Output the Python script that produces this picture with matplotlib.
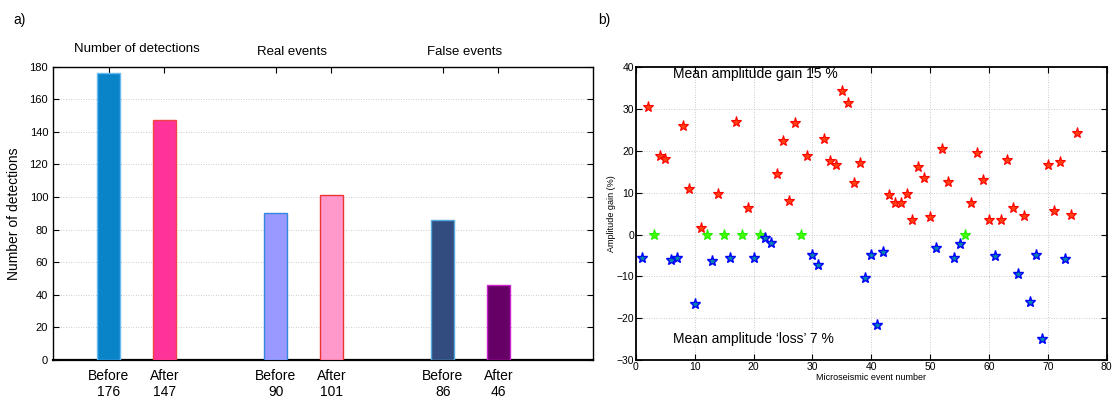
import matplotlib
matplotlib.use("Agg")
import matplotlib.pyplot as plt
import numpy as np

plt.rcParams['font.family'] = ['Liberation Sans', 'DejaVu Sans']

# detection counts, before/after for each category
groups = ["Number of detections", "Real events", "False events"]
stages = ["Before", "After"]
counts = [176, 147, 90, 101, 86, 46]
bar_face = ["#0A84C8", "#FF3399", "#9999FF", "#FF99CC", "#334C7F", "#660066"]
bar_edge = ["#66BBEE", "#EE4444", "#3388DD", "#EE3333", "#55AADD", "#CC22CC"]

# amplitude gain per microseismic event
gain_events = [2, 4, 5, 8, 9, 11, 14, 17, 19, 24, 25, 26, 27, 29, 32, 33, 34, 35, 36,
               37, 38, 43, 44, 45, 46, 47, 48, 49, 50, 52, 53, 57, 58, 59, 60, 62, 63,
               64, 66, 70, 71, 72, 74, 75]
gain_values = [30.5, 18.7, 18.0, 26.0, 11.0, 1.6, 9.6, 27.0, 6.3, 14.6, 22.3, 8.0, 26.6,
               18.7, 22.9, 17.7, 16.7, 34.4, 31.5, 12.4, 17.1, 9.4, 7.6, 7.5, 9.6, 3.6,
               16.1, 13.5, 4.3, 20.5, 12.6, 7.5, 19.5, 13.1, 3.6, 3.6, 17.9, 6.3, 4.4,
               16.7, 5.6, 17.3, 4.8, 24.4]
zero_events = [3, 12, 15, 18, 21, 28, 56]
zero_values = [0, 0, 0, 0, 0, 0, 0]
loss_events = [1, 6, 7, 10, 13, 16, 20, 22, 23, 30, 31, 39, 40, 41, 42, 51, 54, 55, 61,
               65, 67, 68, 69, 73]
loss_values = [-5.6, -6.0, -5.6, -16.7, -6.2, -5.6, -5.7, -0.8, -2.0, -4.9, -7.3, -10.4,
               -4.9, -21.7, -4.1, -3.3, -5.5, -2.2, -5.2, -9.5, -16.1, -4.9, -25.0, -5.9]

fig = plt.figure(figsize=(11.13, 4.01), dpi=100)

# ---- a) bar chart ----
ax1 = fig.add_axes([0.0476, 0.1022, 0.4852, 0.7314])
pos = [1, 2, 4, 5, 7, 8]
ax1.bar(pos, counts, width=0.41, color=bar_face, edgecolor=bar_edge, linewidth=1.0, zorder=3)
ax1.set_xlim(0, 9.7)
ax1.set_ylim(0, 180)
ax1.set_yticks(np.arange(0, 181, 20))
ax1.set_xticks(pos)
ax1.set_xticklabels([])
ax1.yaxis.grid(True, linestyle=(0, (1, 2)), color="#BBBBBB", linewidth=0.6)
ax1.tick_params(direction="in", labelsize=8, right=True, top=True, length=4)
ax1.spines["bottom"].set_linewidth(1.6)
for s in ["left", "right", "top"]:
    ax1.spines[s].set_linewidth(1.0)
ax1.set_ylabel("Number of detections", fontsize=10, labelpad=6)
for i, (p, c) in enumerate(zip(pos, counts)):
    ax1.text(p, -5.5, stages[i % 2] + "\n" + str(c), ha="center", va="top",
             fontsize=10, linespacing=1.15)
for g, (x, y) in zip(groups, [(1.5, 191), (4.3, 189), (7.4, 189)]):
    ax1.text(x, y, g, ha="center", va="center", fontsize=9.5)
fig.text(0.012, 0.95, "a)", fontsize=10, va="center")

# ---- b) amplitude gain scatter ----
ax2 = fig.add_axes([0.5714, 0.1022, 0.4229, 0.7299])
ax2.plot(gain_events, gain_values, linestyle="none", marker="*", markersize=8,
         markerfacecolor="#FF4010", markeredgecolor="#FF0000", markeredgewidth=0.8, zorder=3)
ax2.plot(zero_events, zero_values, linestyle="none", marker="*", markersize=8,
         markerfacecolor="#44FF00", markeredgecolor="#22EE00", markeredgewidth=0.8, zorder=3)
ax2.plot(loss_events, loss_values, linestyle="none", marker="*", markersize=8,
         markerfacecolor="#0088AA", markeredgecolor="#0000FF", markeredgewidth=1.0, zorder=3)
ax2.set_xlim(0, 80)
ax2.set_ylim(-30, 40)
ax2.set_xticks(np.arange(0, 81, 10))
ax2.set_yticks(np.arange(-30, 41, 10))
ax2.set_yticklabels([str(v).replace("-", "\u2212") for v in range(-30, 41, 10)])
ax2.grid(True, linestyle=(0, (1, 2)), color="#BBBBBB", linewidth=0.6)
ax2.tick_params(direction="in", labelsize=7.5, right=True, top=True, length=4, pad=1.5)
for s in ax2.spines.values():
    s.set_linewidth(1.3)
ax2.set_xlabel("Microseismic event number", fontsize=6.5, labelpad=1)
ax2.set_ylabel("Amplitude gain (%)", fontsize=6.5, labelpad=0)
ax2.text(6.3, 38.5, "Mean amplitude gain 15 %", fontsize=10, va="center")
ax2.text(6.3, -25, "Mean amplitude \u2018loss\u2019 7 %", fontsize=10, va="center")
fig.text(0.537, 0.95, "b)", fontsize=10, va="center")

fig.savefig("out.png", dpi=100)
